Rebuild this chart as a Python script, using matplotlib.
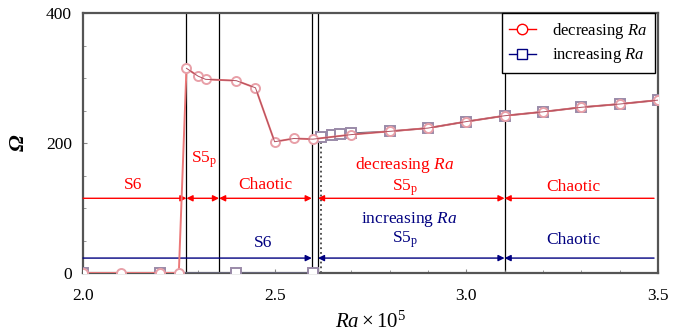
import matplotlib.pyplot as plt
from matplotlib.lines import Line2D
from matplotlib.ticker import MultipleLocator
import numpy as np

plt.rcParams['font.family'] = ['Liberation Serif', 'DejaVu Serif']
plt.rcParams['mathtext.fontset'] = 'custom'
plt.rcParams['mathtext.it'] = 'Liberation Serif:italic'
plt.rcParams['mathtext.rm'] = 'Liberation Serif'

## Data
ra_dec = [2.0, 2.1, 2.2, 2.25, 2.27, 2.30, 2.32, 2.40, 2.45, 2.50, 2.55, 2.60,
          2.70, 2.80, 2.90, 3.00, 3.10, 3.20, 3.30, 3.40, 3.50]
om_dec = [0, 0, 0, 0, 315, 303, 298, 296, 285, 202, 207, 206,
          213, 218, 223, 233, 242, 248, 255, 260, 266]

ra_inc = [2.0, 2.2, 2.4, 2.6, 2.62, 2.65, 2.67, 2.70, 2.80, 2.90, 3.00, 3.10,
          3.20, 3.30, 3.40, 3.50]
om_inc = [0, 0, 0, 0, 210, 212, 214, 215, 218, 223, 233, 242,
          248, 255, 260, 266]

# regime boundaries (Ra x 10^5)
bounds = [2.27, 2.355, 2.597, 2.613, 3.10]
jump_inc = 2.62

red_spans = [(2.0, 2.27, '-|>'), (2.27, 2.355, '<|-|>'), (2.355, 2.597, '<|-|>'),
             (2.613, 3.10, '<|-|>'), (3.10, 3.49, '<|-')]
blue_spans = [(2.0, 2.597, '-|>'), (2.613, 3.10, '<|-|>'), (3.10, 3.49, '<|-')]
red_labels = [(2.13, 'S6'), (2.315, 'S5$_\\mathregular{p}$'), (2.475, 'Chaotic'),
              (2.84, 'S5$_\\mathregular{p}$'), (3.28, 'Chaotic')]
blue_labels = [(2.47, 'S6'), (2.84, 'S5$_\\mathregular{p}$'), (3.28, 'Chaotic')]

fig = plt.figure(figsize=(6.86, 3.35), dpi=100)
ax = fig.add_axes([0.121, 0.185, 0.838, 0.776])

# regime boundary lines
for b in bounds:
    ax.plot([b, b], [0, 400], color='black', lw=0.9, zorder=1)
ax.plot([jump_inc, jump_inc], [0, 208], color='#444444', lw=1.3, ls=':', zorder=1)

# series (increasing: no solid line across the jump)
n_low = 4
ax.plot(ra_inc[:n_low], om_inc[:n_low], color='#6a6a80', lw=1.2, marker='s', ms=6.5,
        mfc='white', mec='#9a8aa8', mew=1.4, zorder=3)
ax.plot(ra_inc[n_low:], om_inc[n_low:], color='#6a6a80', lw=1.2, marker='s', ms=6.5,
        mfc='white', mec='#9a8aa8', mew=1.4, zorder=3)
ax.plot(ra_dec, om_dec, color='#ec7878', lw=1.4, marker='o', ms=6.5,
        mfc='white', mec='#e8a0a8', mew=1.4, zorder=4)
ax.plot(ra_dec[4:], om_dec[4:], color='#b05060', lw=0.7, zorder=4)

# regime arrows
y_red, y_blue = 115, 23
for x0, x1, st in red_spans:
    ax.annotate('', xy=(x1, y_red), xytext=(x0, y_red),
                arrowprops=dict(arrowstyle=st, color='red', lw=1.0,
                                shrinkA=0, shrinkB=0, mutation_scale=9))
for x0, x1, st in blue_spans:
    ax.annotate('', xy=(x1, y_blue), xytext=(x0, y_blue),
                arrowprops=dict(arrowstyle=st, color='navy', lw=1.0,
                                shrinkA=0, shrinkB=0, mutation_scale=9))

# regime labels
fs = 12.5
for i, (x, s) in enumerate(red_labels):
    y = 174 if i == 1 else (132 if i >= 3 else 135)
    ax.text(x, y, s, color='red', fontsize=fs, ha='center', va='center')
ax.text(2.84, 166, 'decreasing $\\mathit{Ra}$', color='red', fontsize=fs,
        ha='center', va='center')
for i, (x, s) in enumerate(blue_labels):
    y = 46 if i == 0 else 51
    ax.text(x, y, s, color='navy', fontsize=fs, ha='center', va='center')
ax.text(2.85, 83, 'increasing $\\mathit{Ra}$', color='navy', fontsize=fs,
        ha='center', va='center')

ax.set_xlim(2.0, 3.5)
ax.set_ylim(0, 400)
ax.set_xticks([2.0, 2.5, 3.0, 3.5])
ax.set_xticklabels(['2.0', '2.5', '3.0', '3.5'])
ax.set_yticks([0, 200, 400])
ax.xaxis.set_minor_locator(MultipleLocator(0.1))
ax.yaxis.set_minor_locator(MultipleLocator(50))
ax.tick_params(which='both', direction='in', colors='#888888', labelcolor='black',
               labelsize=12.5)
ax.tick_params(axis='x', which='major', length=3, pad=11)
ax.tick_params(axis='y', which='major', length=3, pad=8)
ax.tick_params(which='minor', length=2)
for sp in ax.spines.values():
    sp.set_color('#555555')
    sp.set_linewidth(1.6)

ax.set_xlabel('$\\mathit{Ra}\\times10^{5}$', fontsize=15, labelpad=5)
ax.set_ylabel('Ω', fontsize=16, fontstyle='italic', fontweight='bold', labelpad=12)

handles = [Line2D([], [], color='red', marker='o', mfc='white', mec='red', ms=7.5, lw=1),
           Line2D([], [], color='navy', marker='s', mfc='white', mec='navy', ms=7.5, lw=1)]
leg = ax.legend(handles, ['decreasing $\\mathit{Ra}$', 'increasing $\\mathit{Ra}$'],
                loc='upper right', bbox_to_anchor=(0.995, 1.0), fontsize=12,
                handlelength=1.6, borderaxespad=0, fancybox=False, framealpha=1,
                edgecolor='black', handletextpad=1.0, labelspacing=0.35,
                borderpad=0.45)
leg.get_frame().set_linewidth(1.0)

fig.savefig('out.png', dpi=100)
